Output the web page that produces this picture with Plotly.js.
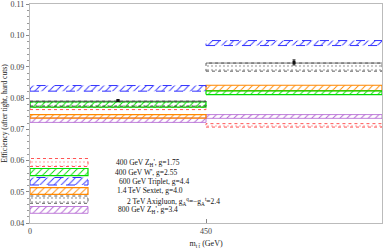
<!DOCTYPE html>
<html><head><meta charset="utf-8">
<script src="https://cdn.plot.ly/plotly-3.0.1.min.js"></script>
<style>html,body{margin:0;padding:0;background:#fff;}#chart{width:383px;height:249px;}</style>
</head><body><div id="chart"></div>
<script>
// ---- data ----
const binEdges = [0, 450, 900];
const seriesNames = [
  "400 GeV Z<sub>H</sub>', g=1.75",
  "400 GeV W', g=2.55",
  "600 GeV Triplet, g=4.4",
  "1.4 TeV Sextet, g=4.0",
  "2 TeV Axigluon, g<sub>A</sub><sup>q</sup>=\u2212g<sub>A</sub><sup>t</sup>=2.4",
  "800 GeV Z<sub>H</sub>', g=3.4"
];
const zh400Lo   = [0.0763, 0.0707], zh400Hi   = [0.0770, 0.0718];
const wprimeLo  = [0.0771, 0.0811], wprimeHi  = [0.0788, 0.0823];
const tripletLo = [0.0822, 0.0968], tripletHi = [0.0840, 0.0984];
const sextetLo  = [0.0736, 0.0824], sextetHi  = [0.0747, 0.0841];
const axiLo     = [0.0774, 0.0886], axiHi     = [0.0790, 0.0912];
const zh800Lo   = [0.0722, 0.0735], zh800Hi   = [0.0736, 0.0747];
const axiCentral = [0.0792, 0.0914];
const axiErr     = [0.0002, 0.0008];
const yTickVals = [0.04, 0.05, 0.06, 0.07, 0.08, 0.09, 0.10, 0.11];
const yTickText = ["0.04","0.05","0.06","0.07","0.08","0.09","0.10","0.11"];
const xTickVals = [0, 450];
const xTickText = ["0", "450"];

// ---- styles ----
const styles = [
  {color:'#ff5555', dash:'dot',   shape:'.', width:1},
  {color:'#00dd00', dash:'solid', shape:'/', width:1.2},
  {color:'#3333ff', dash:'dash',  shape:'/', width:1},
  {color:'#ff8800', dash:'solid', shape:'/', width:1.2},
  {color:'#333333', dash:'dot',   shape:'.', width:0.8},
  {color:'#b060d0', dash:'solid', shape:'/', width:0.8}
];
const los = [zh400Lo, wprimeLo, tripletLo, sextetLo, axiLo, zh800Lo];
const his = [zh400Hi, wprimeHi, tripletHi, sextetHi, axiHi, zh800Hi];

function boxPath(x0, x1, lo, hi){
  return {x:[x0,x1,x1,x0,x0], y:[lo,lo,hi,hi,lo]};
}
function bandTrace(xs, ys, st, xa, ya){
  const dotted = st.shape==='.';
  return {type:'scatter', mode:'lines', x:xs, y:ys, xaxis:xa, yaxis:ya,
    fill:'toself', fillcolor:'rgba(255,255,255,0)',
    fillpattern:{shape:st.shape, fgcolor:st.color, bgcolor:'rgba(255,255,255,0)', size:dotted?4:5, solidity:dotted?0.08:0.18, fgopacity:dotted?0.8:1},
    line:{color:st.color, dash:st.dash, width:st.width},
    hoverinfo:'skip', showlegend:false};
}

const traces = [];
const order = [0,5,3,1,4,2];
order.forEach(i=>{
  for(let b=0;b<binEdges.length-1;b++){
    const p = boxPath(binEdges[b], binEdges[b+1], los[i][b], his[i][b]);
    traces.push(bandTrace(p.x, p.y, styles[i], 'x', 'y'));
  }
});
for(let b=0;b<binEdges.length-1;b++){
  traces.push({type:'scatter', mode:'lines', x:[binEdges[b],binEdges[b+1]], y:[axiHi[b],axiHi[b]],
    line:{color:'#555', width:0.8}, hoverinfo:'skip', showlegend:false});
}
const centers = [];
for(let b=0;b<binEdges.length-1;b++) centers.push((binEdges[b]+binEdges[b+1])/2);
traces.push({type:'scatter', mode:'markers', x:centers, y:axiCentral,
  marker:{color:'#111', size:3, symbol:'square'},
  error_y:{type:'data', array:axiErr, color:'#111', thickness:1, width:1.5},
  hoverinfo:'skip', showlegend:false});

// legend boxes in pixel-like overlay axes
const legBoxX = [30, 88];
const legBoxY = [[158.5,166.5],[168.5,175.7],[177.5,185],[187.7,194.3],[196,203.3],[206.5,213.3]];
const legTextX = [114, 113, 117, 115, 125, 116];
const legTextY = [162.5, 172.5, 181.5, 190.7, 201, 210];
for(let i=0;i<6;i++){
  const p = boxPath(legBoxX[0], legBoxX[1], legBoxY[i][1], legBoxY[i][0]);
  traces.push(bandTrace(p.x, p.y, styles[i], 'x2', 'y2'));
}
const annotations = [];
for(let i=0;i<6;i++){
  annotations.push({xref:'x2', yref:'y2', x:legTextX[i], y:legTextY[i], text:seriesNames[i],
    xanchor:'left', yanchor:'middle', showarrow:false,
    font:{family:'Liberation Serif, serif', size:7.5, color:'#111'}});
}

const axisCommon = {showline:true, linecolor:'#bbb', linewidth:1.2, mirror:true,
  tickcolor:'#888', zeroline:false, showgrid:false, ticklabeloverflow:'allow',
  tickfont:{family:'Liberation Serif, serif', size:8, color:'#444'}};

const layout = {
  width:383, height:249,
  margin:{l:30, r:1, t:4, b:26, pad:0},
  paper_bgcolor:'#fff', plot_bgcolor:'#fff',
  showlegend:false,
  xaxis: Object.assign({}, axisCommon, {range:[0,900], tickvals:xTickVals, ticktext:xTickText, ticks:'inside', ticklen:4,
    title:{text:'m<sub>t t\u0304</sub> (GeV)', font:{family:'Liberation Serif, serif', size:8, color:'#222'}, standoff:7}}),
  yaxis: Object.assign({}, axisCommon, {range:[0.04,0.1101], tickvals:yTickVals, ticktext:yTickText, ticks:'outside', ticklen:3,
    minor:{dtick:0.002, ticklen:2, ticks:'outside', tickcolor:'#999'},
    title:{text:'Efficiency (after tight, hard cuts)', font:{family:'Liberation Serif, serif', size:7.5, color:'#222'}, standoff:2}}),
  xaxis2:{overlaying:'x', range:[30,382], visible:false, fixedrange:true},
  yaxis2:{overlaying:'y', range:[223,4], visible:false, fixedrange:true},
  annotations: annotations
};
Plotly.newPlot('chart', traces, layout, {staticPlot:true, displayModeBar:false});
</script></body></html>
